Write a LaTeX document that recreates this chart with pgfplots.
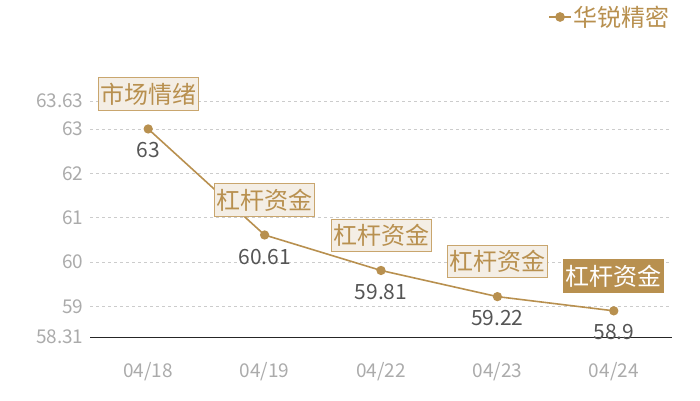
\documentclass[border=0pt]{standalone}
\usepackage{fontspec}
\setmainfont{Noto Sans CJK SC}
\usepackage{pgfplots}
\usepackage{pgfplotstable}
\pgfplotsset{compat=1.18}

\definecolor{gold}{HTML}{B8904F}
\definecolor{boxline}{HTML}{C9A66E}
\definecolor{boxfill}{HTML}{F4EEE5}
\definecolor{tickgray}{HTML}{ABABAB}
\definecolor{valgray}{HTML}{555555}
\definecolor{gridgray}{HTML}{CCCCCC}

\pgfplotstableread{
x y label
0 63 市场情绪
1 60.61 杠杆资金
2 59.81 杠杆资金
3 59.22 杠杆资金
}\lightboxes
\pgfplotstableread{
x y label
4 58.9 杠杆资金
}\darkbox

\begin{document}
\begin{tikzpicture}
\useasboundingbox (-90pt,-63pt) rectangle (610pt,337pt);
\begin{axis}[
  at={(0,0)}, anchor=south west,
  scale only axis, width=582pt, height=236pt,
  xmin=-0.5, xmax=4.5, ymin=58.31, ymax=63.63,
  xtick={0,1,2,3,4},
  xticklabels={04/18,04/19,04/22,04/23,04/24},
  ytick={58.31,59,60,61,62,63,63.63},
  yticklabels={58.31,59,60,61,62,63,63.63},
  axis x line=bottom, axis y line=left,
  axis line style={-},
  y axis line style={draw=none},
  x axis line style={black!85, line width=0.8pt},
  major tick length=0pt,
  ymajorgrids,
  grid style={dashed, gridgray, line width=0.5pt},
  tick label style={text=tickgray, font=\fontsize{19}{19}\selectfont},
  xticklabel style={yshift=-22pt},
  yticklabel style={xshift=-3pt},
  /pgf/number format/assume math mode=true,
  clip=false,
  legend style={draw=none, fill=none, at={(1,1.356)}, anchor=east,
    font=\fontsize{24}{24}\selectfont, text=gold, inner sep=0pt},
  legend cell align=left,
  legend image code/.code={
    \draw[gold, line width=1.5pt] (0pt,0pt) -- (22pt,0pt);
    \fill[gold] (11pt,0pt) circle (4pt);},
]
\addplot[gold, line width=1.6pt, mark=*, mark size=3.8pt,
  nodes near coords,
  every node near coord/.append style={anchor=north, yshift=-13pt, inner sep=0pt,
    text=valgray, font=\fontsize{21}{21}\selectfont}]
  coordinates {(0,63) (1,60.61) (2,59.81) (3,59.22) (4,58.9)};
\addlegendentry{华锐精密}
\addplot[draw=none, mark=none, forget plot,
  nodes near coords, point meta=explicit symbolic,
  every node near coord/.style={anchor=center, yshift=35pt, draw=boxline, fill=boxfill,
    line width=1pt, text=gold, inner xsep=2pt, inner ysep=5pt,
    font=\fontsize{24}{24}\selectfont}]
  table[x=x, y=y, meta=label] {\lightboxes};
\addplot[draw=none, mark=none, forget plot,
  nodes near coords, point meta=explicit symbolic,
  every node near coord/.style={anchor=center, yshift=35pt, draw=gold, fill=gold,
    line width=1pt, text=white, inner xsep=2pt, inner ysep=5pt,
    font=\fontsize{24}{24}\selectfont}]
  table[x=x, y=y, meta=label] {\darkbox};
\end{axis}
\end{tikzpicture}
\end{document}
